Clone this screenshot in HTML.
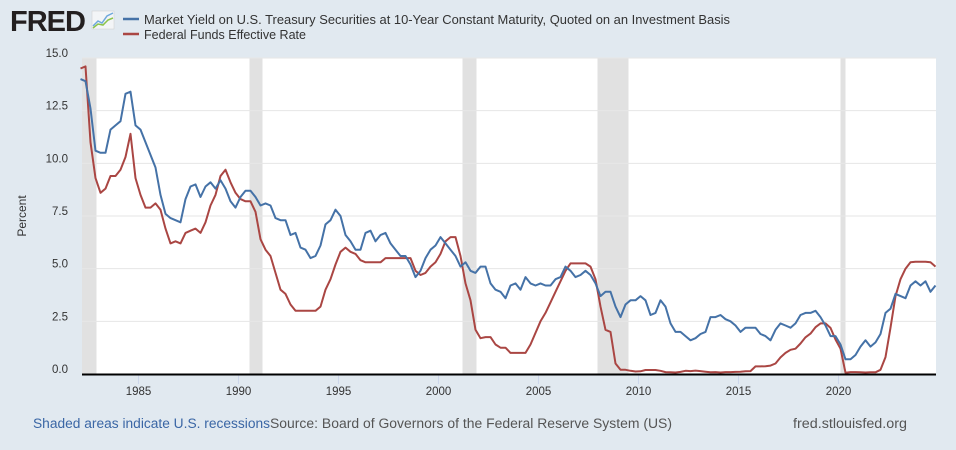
<!DOCTYPE html>
<html><head><meta charset="utf-8"><style>
body{margin:0;background:#e1e9f0;width:956px;height:450px;overflow:hidden;font-family:"Liberation Sans",sans-serif}
</style></head><body>
<svg width="956" height="450" style="position:absolute;left:0;top:0">
<text x="10" y="31" font-size="29" font-weight="bold" fill="#231f20" letter-spacing="-1">FRED</text>
<g><rect x="92" y="11" width="22" height="18" fill="#f3f5f7" stroke="#ccc" stroke-width="0.5"/><polyline points="93,26 98,21 102,23 107,16 113,13" fill="none" stroke="#6fa8dc" stroke-width="1.5"/><polyline points="93,28 98,24 103,25 108,20 113,18" fill="none" stroke="#8bc34a" stroke-width="1.5"/></g>
<g>
<line x1="123" y1="19" x2="139" y2="19" stroke="#4572a7" stroke-width="2.5"/>
<text x="144" y="24" font-size="12.5" fill="#333" textLength="586" lengthAdjust="spacingAndGlyphs">Market Yield on U.S. Treasury Securities at 10-Year Constant Maturity, Quoted on an Investment Basis</text>
<line x1="123" y1="34" x2="139" y2="34" stroke="#aa4643" stroke-width="2.5"/>
<text x="144" y="39" font-size="12.5" fill="#333" textLength="162" lengthAdjust="spacingAndGlyphs">Federal Funds Effective Rate</text>
</g>
<rect x="82" y="58" width="854" height="316" fill="#fff"/>
<g id="rec"></g><g id="grid"></g><g id="lines"></g>
<line x1="82" y1="374.5" x2="936" y2="374.5" stroke="#000" stroke-width="2"/>
<text transform="translate(26,216) rotate(-90)" text-anchor="middle" font-size="12" fill="#333">Percent</text>
<text x="33" y="428" font-size="13.5" fill="#3a66a5" textLength="237" lengthAdjust="spacingAndGlyphs">Shaded areas indicate U.S. recessions</text>
<text x="270" y="428" font-size="13.5" fill="#555" textLength="402" lengthAdjust="spacingAndGlyphs">Source: Board of Governors of the Federal Reserve System (US)</text>
<text x="793" y="428" font-size="13.5" fill="#555" textLength="114" lengthAdjust="spacingAndGlyphs">fred.stlouisfed.org</text>
</svg>
<script>
const recessions=[[1981.5,1982.9],[1990.55,1991.2],[2001.2,2001.9],[2007.95,2009.5],[2020.1,2020.35]];
const yTicks=[0,2.5,5,7.5,10,12.5,15];
const yTickLabels=["0.0","2.5","5.0","7.5","10.0","12.5","15.0"];
const xTicks=[1985,1990,1995,2000,2005,2010,2015,2020];
const startYear=1982.1;
const treasury10y=[14.0,13.9,12.6,10.6,10.5,10.5,11.6,11.8,12.0,13.3,13.4,11.8,11.6,11.0,10.4,9.8,8.5,7.6,7.4,7.3,7.2,8.3,8.9,9.0,8.4,8.9,9.1,8.8,9.2,8.8,8.2,7.9,8.4,8.7,8.7,8.4,8.0,8.1,8.0,7.4,7.3,7.3,6.6,6.7,6.0,5.9,5.5,5.6,6.1,7.1,7.3,7.8,7.5,6.6,6.3,5.9,5.9,6.7,6.8,6.3,6.6,6.7,6.2,5.9,5.6,5.6,5.2,4.6,4.9,5.5,5.9,6.1,6.5,6.2,5.9,5.6,5.1,5.3,4.9,4.8,5.1,5.1,4.3,4.0,3.9,3.6,4.2,4.3,4.0,4.6,4.3,4.2,4.3,4.2,4.2,4.5,4.6,5.1,4.9,4.6,4.7,4.9,4.7,4.3,3.7,3.9,3.9,3.2,2.7,3.3,3.5,3.5,3.7,3.5,2.8,2.9,3.5,3.2,2.4,2.0,2.0,1.8,1.6,1.7,1.9,2.0,2.7,2.7,2.8,2.6,2.5,2.3,2.0,2.2,2.2,2.2,1.9,1.8,1.6,2.1,2.4,2.3,2.2,2.4,2.8,2.9,2.9,3.0,2.7,2.3,1.8,1.8,1.4,0.7,0.7,0.9,1.3,1.6,1.3,1.5,1.9,2.9,3.1,3.8,3.7,3.6,4.2,4.4,4.2,4.4,3.9,4.2];
const fedFunds=[14.5,14.6,11.0,9.3,8.6,8.8,9.4,9.4,9.7,10.3,11.4,9.3,8.5,7.9,7.9,8.1,7.8,6.9,6.2,6.3,6.2,6.7,6.8,6.9,6.7,7.2,8.0,8.5,9.4,9.7,9.1,8.6,8.3,8.2,8.2,7.7,6.4,5.9,5.6,4.8,4.0,3.8,3.3,3.0,3.0,3.0,3.0,3.0,3.2,4.0,4.5,5.2,5.8,6.0,5.8,5.7,5.4,5.3,5.3,5.3,5.3,5.5,5.5,5.5,5.5,5.5,5.5,4.9,4.7,4.8,5.1,5.3,5.7,6.3,6.5,6.5,5.6,4.3,3.5,2.1,1.7,1.75,1.75,1.4,1.25,1.25,1.0,1.0,1.0,1.0,1.4,1.95,2.5,2.9,3.4,3.9,4.4,4.9,5.25,5.25,5.25,5.25,5.1,4.5,3.2,2.1,2.0,0.5,0.2,0.2,0.15,0.12,0.13,0.19,0.19,0.19,0.15,0.09,0.08,0.07,0.1,0.15,0.14,0.16,0.14,0.11,0.08,0.09,0.07,0.09,0.09,0.1,0.11,0.13,0.14,0.36,0.36,0.37,0.40,0.50,0.79,1.0,1.15,1.2,1.45,1.74,1.92,2.22,2.40,2.40,2.19,1.64,1.2,0.06,0.09,0.09,0.08,0.07,0.08,0.08,0.2,0.8,2.2,3.7,4.5,5.0,5.3,5.33,5.33,5.33,5.3,5.1];
const NS="http://www.w3.org/2000/svg";
function xS(t){return 138.5+(t-1985)*20;}
function yS(v){return 374-v*316/15;}
function mk(tag,attrs,parent){const e=document.createElementNS(NS,tag);for(const k in attrs)e.setAttribute(k,attrs[k]);parent.appendChild(e);return e;}
const rec=document.getElementById('rec'),grid=document.getElementById('grid'),lines=document.getElementById('lines');
recessions.forEach(r=>{const a=Math.max(82,xS(r[0])),b=Math.min(936,xS(r[1]));
const e=mk('rect',{x:a,y:58,width:b-a,height:316,fill:'#e1e1e1'},rec);

});
yTicks.forEach((v,i)=>{
if(v>0){const g=mk('line',{x1:82,x2:936,y1:yS(v),y2:yS(v),stroke:'#e6e6e6','stroke-width':1},grid);

}
const t=mk('text',{x:68,y:yS(v)-1,'text-anchor':'end','font-size':11.5,fill:'#333'},grid);t.textContent=yTickLabels[i];

});
xTicks.forEach(y=>{
const l=mk('line',{x1:xS(y),x2:xS(y),y1:375,y2:384,stroke:'#ccd6eb'},grid);


const t=mk('text',{x:xS(y),y:395,'text-anchor':'middle','font-size':11.5,fill:'#333'},grid);t.textContent=y;

});
function series(arr,color,name){const pts=arr.map((v,i)=>xS(startYear+i*0.25).toFixed(1)+','+yS(v).toFixed(1)).join(' ');
const p=mk('polyline',{points:pts,fill:'none',stroke:color,'stroke-width':2,'stroke-linejoin':'round'},lines);

}
series(fedFunds,'#aa4643','fedfunds-line');
series(treasury10y,'#4572a7','treasury-10y-line');
</script>
</body></html>
